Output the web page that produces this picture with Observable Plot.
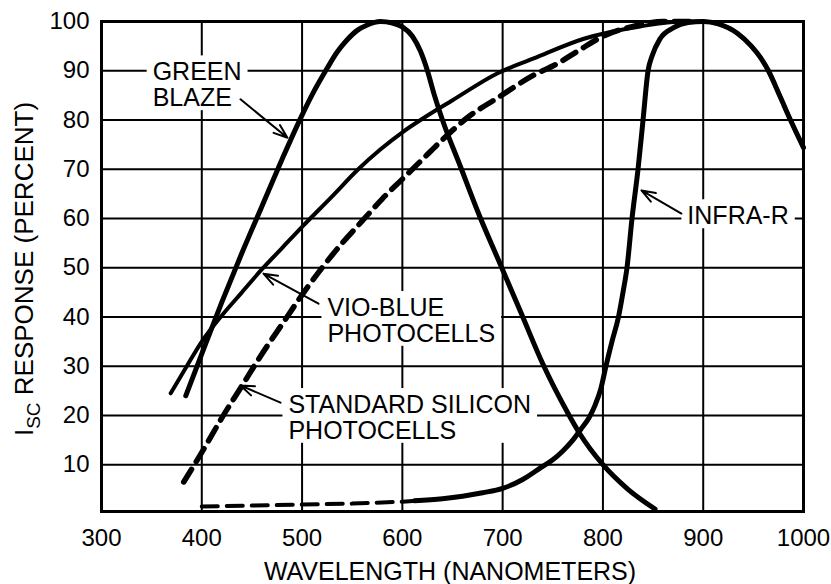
<!DOCTYPE html>
<html>
<head>
<meta charset="utf-8">
<script src="https://cdn.jsdelivr.net/npm/d3@7"></script>
<script src="https://cdn.jsdelivr.net/npm/@observablehq/plot@0.6"></script>
<style>
  html, body { margin: 0; padding: 0; background: #fff; }
  #chart { width: 831px; height: 584px; }
</style>
</head>
<body>
<div id="chart"></div>
<script>
// ---- axis ticks ----
const xTicks = [300, 400, 500, 600, 700, 800, 900, 1000];
const yTicks = [10, 20, 30, 40, 50, 60, 70, 80, 90, 100];
const xGrid = [400, 500, 600, 700, 800, 900];
const yGrid = [10, 20, 30, 40, 50, 60, 70, 80, 90];

// ---- series (wavelength nm, response %) ----
const greenNm  = [384, 400, 420, 440, 460, 480, 500, 511, 525, 535, 545, 555, 565, 578, 590, 600, 610, 618, 625, 632, 640, 658, 677, 697, 718, 740, 765, 776, 800, 825, 852];
const greenPct = [24, 32.5, 43, 53, 62.5, 72, 81, 85.5, 90.5, 93.8, 96.3, 98.2, 99.3, 100, 99.7, 98.9, 97, 94, 90, 85, 80, 70.5, 60.5, 51, 41, 30.5, 20.5, 16.6, 10, 5, 1];

const vioNm  = [369, 385, 400, 420, 440, 460, 480, 500, 530, 556, 578, 600, 622, 650, 695, 731, 781, 837, 880, 900, 915, 934, 948, 957, 965, 977, 987, 1000];
const vioPct = [24.5, 30, 35, 40.3, 45, 49.7, 54, 58.3, 64.5, 70, 74, 77.5, 80.5, 84, 89.5, 92.5, 96.5, 99, 100, 100, 99.5, 97.6, 95, 92.7, 90, 84.6, 80, 74.4];

const stdNm  = [382, 400, 420, 440, 460, 480, 500, 520, 540, 560, 580, 600, 620, 640, 665, 695, 730, 755, 775, 800, 830, 860, 890];
const stdPct = [6.5, 12.5, 19.5, 26, 32.5, 38.5, 44.5, 50, 55, 59.5, 64, 68, 72, 76, 80.5, 84.5, 89, 91.5, 94, 97, 99, 100, 100];

const infraLowNm  = [400, 450, 500, 550, 600, 614];
const infraLowPct = [1.5, 1.7, 1.9, 2.1, 2.5, 2.7];

const infraNm  = [612, 640, 660, 680, 700, 720, 738, 750, 760, 770, 778, 786, 792, 798, 803, 809, 815.5, 820, 824, 829, 835, 840, 845, 849, 857, 870, 885, 900, 915, 934, 948, 957, 965, 977, 987, 1000];
const infraPct = [2.7, 3.1, 3.6, 4.3, 5.2, 7, 9.4, 11, 12.8, 15, 17.2, 19.5, 22, 25.5, 30, 35, 40, 45, 50, 60, 70, 80, 90, 93, 96.5, 98.7, 99.8, 100, 99.5, 97.6, 95, 92.7, 90, 84.6, 80, 74.4];

// ---- annotations ----
const labelText = ["GREEN\nBLAZE", "VIO-BLUE\nPHOTOCELLS", "STANDARD SILICON\nPHOTOCELLS", "INFRA-R"];
const labelNm   = [351, 525.3, 486.4, 884.2];
const labelPct  = [87.1, 39.25, 19.55, 60.5];

const arrowFromNm  = [438.6, 516.4, 478.5, 878.3];
const arrowFromPct = [84.2, 42.7, 22.6, 61];
const arrowToNm    = [485.4, 461.5, 438.6, 838.4];
const arrowToPct   = [76.4, 48.8, 26.1, 65.7];

const toRows = (xs, ys) => xs.map((x, i) => ({x, y: ys[i]}));
const green = toRows(greenNm, greenPct);
const vio = toRows(vioNm, vioPct);
const std = toRows(stdNm, stdPct);
const infraLow = toRows(infraLowNm, infraLowPct);
const infra = toRows(infraNm, infraPct);
const labels = labelText.map((t, i) => ({t, x: labelNm[i], y: labelPct[i]}));
const arrows = arrowFromNm.map((x1, i) => ({x1, y1: arrowFromPct[i], x2: arrowToNm[i], y2: arrowToPct[i]}));

const font = "'Liberation Sans', Arial, Helvetica, sans-serif";

const chart = Plot.plot({
  width: 831,
  height: 584,
  marginLeft: 101,
  marginRight: 28,
  marginTop: 21,
  marginBottom: 73,
  style: {fontFamily: font, background: "#fff", color: "#000", overflow: "visible"},
  x: {domain: [300, 1000]},
  y: {domain: [0.5, 100]},
  marks: [
    Plot.ruleX(xGrid, {stroke: "#000", strokeWidth: 2}),
    Plot.ruleY(yGrid, {stroke: "#000", strokeWidth: 2}),
    Plot.text(labels, {x: "x", y: "y", text: "t", textAnchor: "start", lineAnchor: "middle", lineHeight: 1.03, fontSize: 25, fill: "#000"}),
    Plot.line(infraLow, {x: "x", y: "y", stroke: "#000", strokeWidth: 4, strokeDasharray: "16,9"}),
    Plot.line(std, {x: "x", y: "y", curve: "monotone-x", stroke: "#000", strokeWidth: 5.5, strokeDasharray: "15,9"}),
    Plot.line(vio, {x: "x", y: "y", curve: "monotone-x", stroke: "#000", strokeWidth: 4}),
    Plot.line(green, {x: "x", y: "y", curve: "monotone-x", stroke: "#000", strokeWidth: 5}),
    Plot.line(infra, {x: "x", y: "y", curve: "monotone-x", stroke: "#000", strokeWidth: 5}),
    Plot.arrow(arrows, {x1: "x1", y1: "y1", x2: "x2", y2: "y2", stroke: "#000", strokeWidth: 2, headLength: 11, headAngle: 40, insetStart: 0, insetEnd: 0}),
    Plot.frame({stroke: "#000", strokeWidth: 3}),
    Plot.axisY(yTicks, {tickSize: 0, tickPadding: 12, fontSize: 24, label: null, tickFormat: d => String(d)}),
    Plot.axisX(xTicks, {tickSize: 0, tickPadding: 17, fontSize: 24, label: null, tickFormat: d => String(d)})
  ]
});

document.getElementById("chart").appendChild(chart);
const svg = d3.select(chart);

// white boxes behind the annotation labels (sized from the rendered text), breaking the grid lines
const svgBox = chart.getBoundingClientRect();
const labelGroup = chart.querySelector('g[aria-label="text"]');
if (labelGroup) {
  labelGroup.querySelectorAll("text").forEach(t => {
    const b = t.getBoundingClientRect();
    const padX = 6, padTop = 2, padBottom = -1;
    const r = document.createElementNS("http://www.w3.org/2000/svg", "rect");
    r.setAttribute("x", b.left - svgBox.left - padX);
    r.setAttribute("y", b.top - svgBox.top - padTop);
    r.setAttribute("width", b.width + 2 * padX);
    r.setAttribute("height", b.height + padTop + padBottom);
    r.setAttribute("fill", "#fff");
    labelGroup.parentNode.insertBefore(r, labelGroup);
  });
}

// y axis title with subscript
const yt = svg.append("text")
  .attr("transform", "translate(33,269) rotate(-90)")
  .attr("text-anchor", "middle")
  .attr("font-family", font)
  .attr("font-size", 26)
  .attr("fill", "#000");
yt.append("tspan").text("I");
yt.append("tspan").attr("font-size", 19).attr("dy", 7).text("SC");
yt.append("tspan").attr("dy", -7).text(" RESPONSE (PERCENT)");
// x axis title
svg.append("text")
  .attr("x", 450).attr("y", 580)
  .attr("text-anchor", "middle")
  .attr("font-family", font)
  .attr("font-size", 25)
  .attr("fill", "#000")
  .text("WAVELENGTH (NANOMETERS)");
</script>
</body>
</html>
